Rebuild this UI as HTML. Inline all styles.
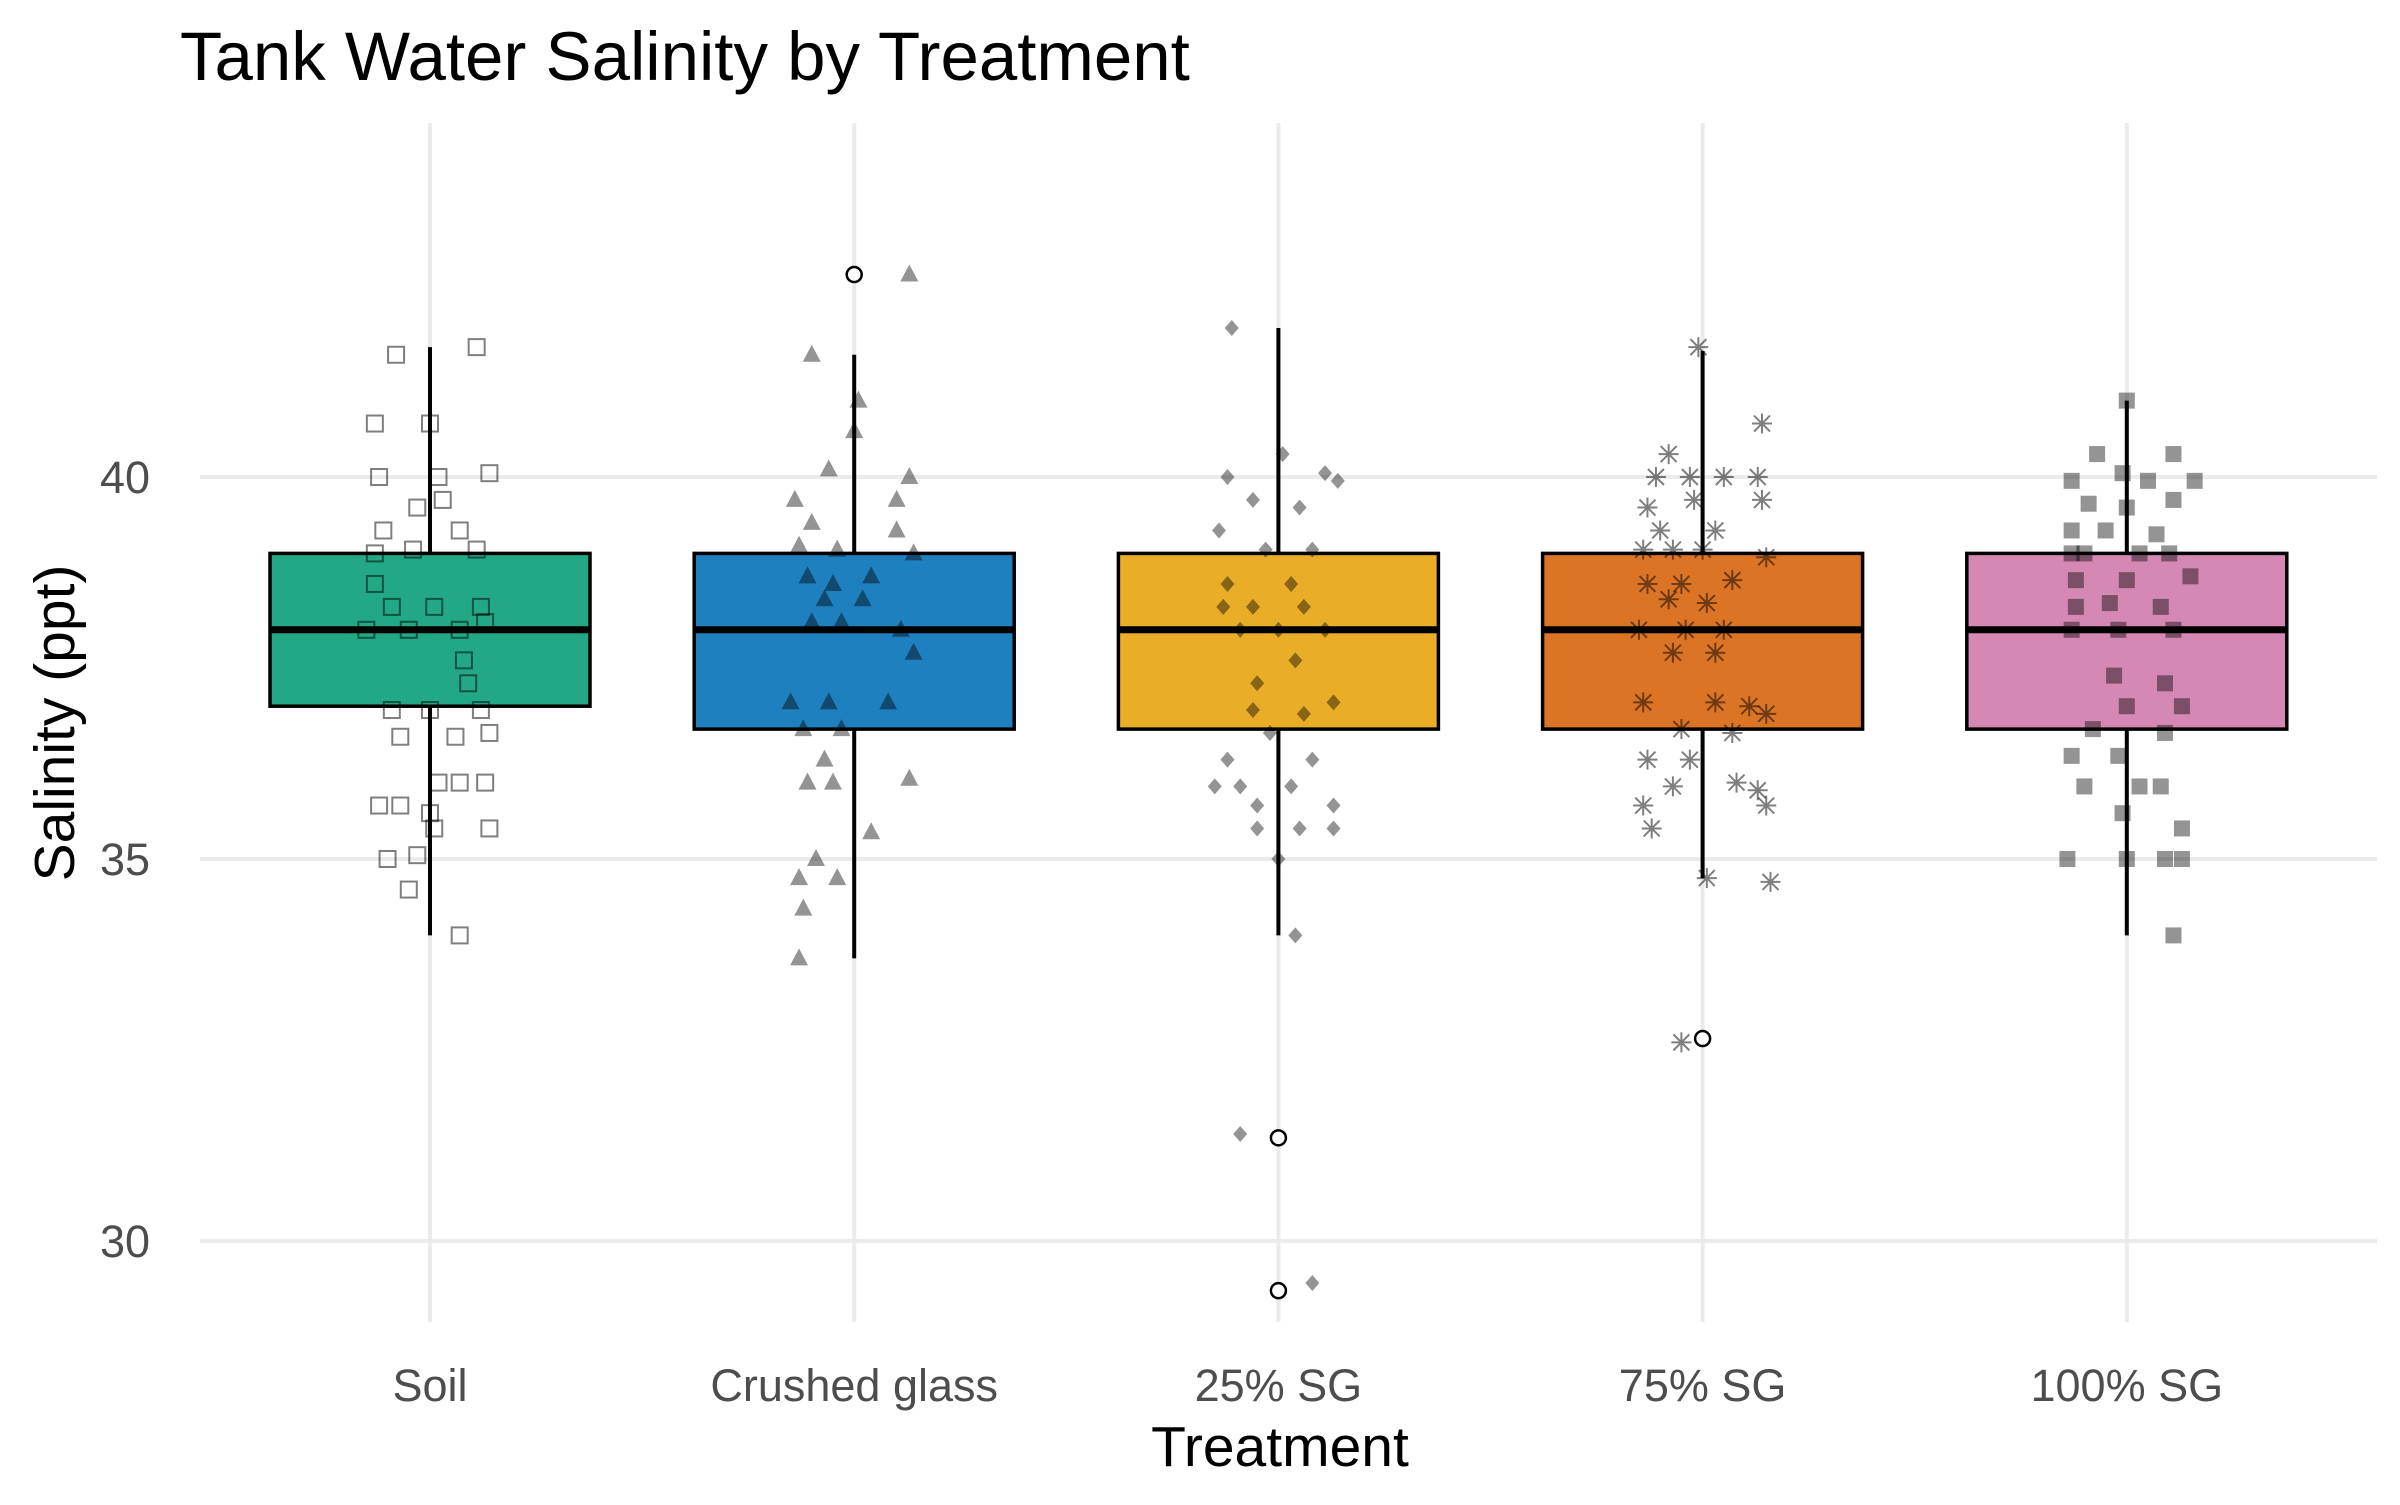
<!DOCTYPE html>
<html><head><meta charset="utf-8"><style>
html,body{margin:0;padding:0;background:#fff;}
svg text{font-family:"Liberation Sans",Arial,sans-serif;}
</style></head><body>
<svg id="chart" width="2400" height="1500" viewBox="0 0 2400 1500" xmlns="http://www.w3.org/2000/svg">
<rect width="2400" height="1500" fill="#fff"/>
<text x="180" y="80" font-size="69" fill="#000">Tank Water Salinity by Treatment</text>
<g id="grid"></g>
<g id="boxes"></g>
<g id="points"></g>
<g id="axes"></g>
<text x="1280" y="1466" font-size="57" text-anchor="middle" fill="#000">Treatment</text>
<text transform="translate(74,723) rotate(-90)" font-size="57" text-anchor="middle" fill="#000">Salinity (ppt)</text>
</svg>
<script>
const categories = ["Soil","Crushed glass","25% SG","75% SG","100% SG"];
const colors = ["#22a884","#1f80c0","#e9ad27","#dc7426","#d488b3"];
const q1 = [37, 36.7, 36.7, 36.7, 36.7];
const medians = [38, 38, 38, 38, 38];
const q3 = [39, 39, 39, 39, 39];
const whiskLo = [34, 33.7, 34, 34.75, 34];
const whiskHi = [41.7, 41.6, 41.95, 41.65, 41];
const outliers = [[], [42.65], [31.35, 29.35], [32.65], []];
const yTicks = [30, 35, 40];

const soilVals = [41.6,41.7,40.7,40.7,40,40,40.05,39.6,39.7,39.3,39.3,39,39.05,39.05,38.6,38.3,38.3,38.3,38,38,38,38.1,37.6,37.3,36.95,36.95,36.95,36.6,36.6,36.65,36,36,36,35.7,35.7,35.6,35.4,35.4,35,35.05,34.6,34];
const soilJit = [-.08,.11,-.13,0,-.12,.02,.14,-.03,.03,-.11,.07,-.13,-.04,.11,-.13,-.09,.01,.12,-.15,-.05,.07,.13,.08,.09,-.09,0,.12,-.07,.06,.14,.02,.07,.13,-.12,-.07,0,.01,.14,-.1,-.03,-.05,.07];
const glassVals = [42.65,41.6,41,40.6,40.1,40,39.7,39.7,39.4,39.3,39.1,39.05,39,38.7,38.6,38.7,38.4,38.4,38.1,38.1,38,37.7,37.05,37.05,37.05,36.7,36.7,36.3,36,36,36.05,35.35,35,34.75,34.75,34.35,33.7];
const glassJit = [.13,-.1,.01,0,-.06,.13,-.14,.1,-.1,.1,-.13,-.04,.14,-.11,-.05,.04,-.07,.02,-.1,-.03,.11,.14,-.15,-.06,.08,-.12,-.03,-.07,-.11,-.05,.13,.04,-.09,-.13,-.04,-.12,-.13];
const sg25Vals = [41.95,40.3,40,40.05,39.95,39.7,39.6,39.3,39.05,39.05,38.6,38.6,38.3,38.3,38.3,38,38,38,37.6,37.3,37.05,36.95,36.9,36.65,36.3,36.3,35.95,35.95,35.95,35.7,35.7,35.4,35.4,35.4,35,34,31.4,29.45];
const sg25Jit = [-.11,.01,-.12,.11,.14,-.06,.05,-.14,-.03,.08,-.12,.03,-.13,-.06,.06,-.09,0,.11,.04,-.05,.13,-.06,.06,-.02,-.12,.08,-.15,-.09,.03,-.05,.13,-.05,.05,.13,0,.04,-.09,.08];
const sg75Vals = [41.7,40.3,40,40,40,40,40.7,39.6,39.7,39.7,39.3,39.3,39.05,39.05,39.05,38.95,38.6,38.6,38.65,38.4,38.35,38,38,38,37.7,37.7,37.05,37.05,37,36.9,36.7,36.65,36.3,36.3,35.95,36,35.9,35.7,35.7,35.4,34.75,34.7,32.6];
const sg75Jit = [-.01,-.08,-.11,-.03,.05,.13,.14,-.13,-.02,.14,-.1,.03,-.14,-.07,0,.15,-.13,-.05,.07,-.08,.01,-.15,-.04,.05,-.07,.03,-.14,.03,.11,.15,-.05,.07,-.13,-.03,-.07,.08,.13,-.14,.15,-.12,.01,.16,-.05];
const sg100Vals = [41,40.3,40.3,39.95,40.05,39.95,39.95,39.65,39.6,39.7,39.3,39.3,39.25,39,39,39,39,38.65,38.65,38.7,38.3,38.35,38.3,38,38,38,37.4,37.3,37,37,36.7,36.65,36.35,36.35,35.95,35.95,35.95,35.6,35.4,35,35,35,35,34];
const sg100Jit = [0,-.07,.11,-.13,-.01,.05,.16,-.09,0,.11,-.13,-.05,.07,-.13,-.1,.03,.1,-.12,0,.15,-.12,-.04,.08,-.13,-.02,.11,-.03,.09,0,.13,-.08,.09,-.13,-.02,-.1,.03,.08,-.01,.13,-.14,0,.09,.13,.11];
const pointVals = [soilVals, glassVals, sg25Vals, sg75Vals, sg100Vals];
const pointJit = [soilJit, glassJit, sg25Jit, sg75Jit, sg100Jit];

const NS = "http://www.w3.org/2000/svg";
const X0 = 430, XSTEP = 424.2;
function xScale(i){ return X0 + i*XSTEP; }
function yScale(v){ return 477 - (v-40)*76.4; }
function mk(tag, attrs, parent){ const e=document.createElementNS(NS,tag); for(const k in attrs) e.setAttribute(k,attrs[k]); parent.appendChild(e); return e; }

const grid=document.getElementById('grid'), axes=document.getElementById('axes'), boxes=document.getElementById('boxes'), pts=document.getElementById('points');
yTicks.forEach(t=>{
  const l=mk('line',{x1:200,x2:2377,y1:yScale(t),y2:yScale(t),stroke:'#ebebeb','stroke-width':4},grid);
  
  
  const tx=mk('text',{x:150,y:yScale(t)+16,'font-size':45,fill:'#4d4d4d','text-anchor':'end'},axes);
  tx.textContent=t;
  
  
});
categories.forEach((c,i)=>{
  const cx=xScale(i);
  const g=mk('line',{x1:cx,x2:cx,y1:123,y2:1322,stroke:'#ebebeb','stroke-width':4},grid);
  
  
  const tx=mk('text',{x:cx,y:1401,'font-size':45,fill:'#4d4d4d','text-anchor':'middle'},axes);
  tx.textContent=c;
  
  
  const w=mk('line',{x1:cx,x2:cx,y1:yScale(whiskHi[i]),y2:yScale(whiskLo[i]),stroke:'#000','stroke-width':4},boxes);
  
  
  const r=mk('rect',{x:cx-160,y:yScale(q3[i]),width:320,height:yScale(q1[i])-yScale(q3[i]),fill:colors[i],stroke:'#000','stroke-width':3.5},boxes);
  
  
  const m=mk('line',{x1:cx-160,x2:cx+160,y1:yScale(medians[i]),y2:yScale(medians[i]),stroke:'#000','stroke-width':7},boxes);
  
  
  outliers[i].forEach(o=>{
    const ci=mk('circle',{cx:cx,cy:yScale(o),r:7.5,fill:'#fff',stroke:'#000','stroke-width':2.5},boxes);
    
    
  });
  pointVals[i].forEach((v,k)=>{
    const px=cx+pointJit[i][k]*XSTEP, py=yScale(v);
    let e;
    if(i===0) e=mk('rect',{x:px-8,y:py-8,width:16,height:16,fill:'none',stroke:'#000','stroke-opacity':0.5,'stroke-width':2},pts);
    else if(i===1) e=mk('polygon',{points:`${px},${py-10} ${px-9},${py+7} ${px+9},${py+7}`,fill:'#000','fill-opacity':0.42},pts);
    else if(i===2) e=mk('polygon',{points:`${px},${py-8} ${px-7},${py} ${px},${py+8} ${px+7},${py}`,fill:'#000','fill-opacity':0.42},pts);
    else if(i===3) e=mk('path',{d:`M${px-10},${py}H${px+10}M${px},${py-10}V${py+10}M${px-8},${py-8}L${px+8},${py+8}M${px-8},${py+8}L${px+8},${py-8}`,stroke:'#000','stroke-opacity':0.5,'stroke-width':2,fill:'none'},pts);
    else e=mk('rect',{x:px-8,y:py-8,width:16,height:16,fill:'#000','fill-opacity':0.42},pts);
    
    
  });
});
</script>
</body></html>
